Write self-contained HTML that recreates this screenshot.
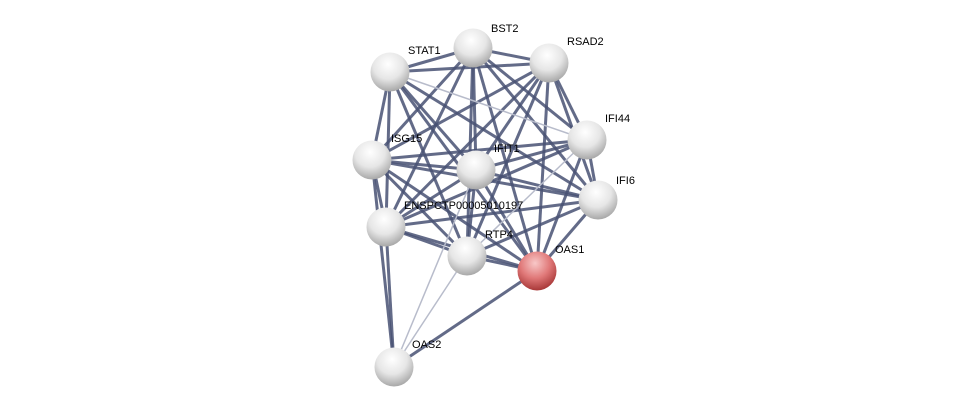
<!DOCTYPE html><html><head><style>body{margin:0;background:#fff}svg{display:block}text{font-family:"Liberation Sans",sans-serif;font-size:11px;fill:#000}</style></head><body>
<svg width="975" height="411" xmlns="http://www.w3.org/2000/svg">
<defs>
<radialGradient id="g" cx="45%" cy="30%" r="70%"><stop offset="0" stop-color="#ffffff"/><stop offset="0.55" stop-color="#e6e6e6"/><stop offset="1" stop-color="#a8a8a8"/></radialGradient>
<radialGradient id="r" cx="45%" cy="30%" r="70%"><stop offset="0" stop-color="#f8c8c8"/><stop offset="0.55" stop-color="#e07878"/><stop offset="1" stop-color="#a83838"/></radialGradient>
</defs>
<g stroke="#485173" stroke-width="3" stroke-opacity="0.85">
<line x1="473" y1="48" x2="549" y2="63"/><line x1="473" y1="48" x2="390" y2="72"/><line x1="473" y1="48" x2="587" y2="140"/><line x1="473" y1="48" x2="372" y2="160"/><line x1="473" y1="48" x2="476" y2="170"/><line x1="473" y1="48" x2="598" y2="200"/><line x1="473" y1="48" x2="386" y2="227"/><line x1="473" y1="48" x2="467" y2="256"/><line x1="473" y1="48" x2="537" y2="271"/>
<line x1="549" y1="63" x2="390" y2="72"/><line x1="549" y1="63" x2="587" y2="140"/><line x1="549" y1="63" x2="372" y2="160"/><line x1="549" y1="63" x2="476" y2="170"/><line x1="549" y1="63" x2="598" y2="200"/><line x1="549" y1="63" x2="386" y2="227"/><line x1="549" y1="63" x2="467" y2="256"/><line x1="549" y1="63" x2="537" y2="271"/>
<line x1="390" y1="72" x2="372" y2="160"/><line x1="390" y1="72" x2="476" y2="170"/><line x1="390" y1="72" x2="598" y2="200"/><line x1="390" y1="72" x2="386" y2="227"/><line x1="390" y1="72" x2="467" y2="256"/><line x1="390" y1="72" x2="537" y2="271"/>
<line x1="587" y1="140" x2="372" y2="160"/><line x1="587" y1="140" x2="476" y2="170"/><line x1="587" y1="140" x2="598" y2="200"/><line x1="587" y1="140" x2="386" y2="227"/><line x1="587" y1="140" x2="537" y2="271"/>
<line x1="372" y1="160" x2="476" y2="170"/><line x1="372" y1="160" x2="598" y2="200"/><line x1="372" y1="160" x2="386" y2="227"/><line x1="372" y1="160" x2="467" y2="256"/><line x1="372" y1="160" x2="537" y2="271"/><line x1="372" y1="160" x2="394" y2="367"/>
<line x1="476" y1="170" x2="598" y2="200"/><line x1="476" y1="170" x2="386" y2="227"/><line x1="476" y1="170" x2="467" y2="256"/><line x1="476" y1="170" x2="537" y2="271"/>
<line x1="598" y1="200" x2="386" y2="227"/><line x1="598" y1="200" x2="467" y2="256"/><line x1="598" y1="200" x2="537" y2="271"/>
<line x1="386" y1="227" x2="467" y2="256"/><line x1="386" y1="227" x2="537" y2="271"/><line x1="386" y1="227" x2="394" y2="367"/>
<line x1="467" y1="256" x2="537" y2="271"/><line x1="537" y1="271" x2="394" y2="367"/>
</g>
<g stroke="#b8bccb" stroke-width="1.5">
<line x1="390" y1="72" x2="587" y2="140"/><line x1="587" y1="140" x2="467" y2="256"/><line x1="476" y1="170" x2="394" y2="367"/><line x1="467" y1="256" x2="394" y2="367"/>
</g>
<g>
<circle cx="473" cy="48" r="19.5" fill="url(#g)"/><circle cx="549" cy="63" r="19.5" fill="url(#g)"/><circle cx="390" cy="72" r="19.5" fill="url(#g)"/><circle cx="587" cy="140" r="19.5" fill="url(#g)"/><circle cx="372" cy="160" r="19.5" fill="url(#g)"/><circle cx="476" cy="170" r="19.5" fill="url(#g)"/><circle cx="598" cy="200" r="19.5" fill="url(#g)"/><circle cx="386" cy="227" r="19.5" fill="url(#g)"/><circle cx="467" cy="256" r="19.5" fill="url(#g)"/><circle cx="394" cy="367" r="19.5" fill="url(#g)"/>
<circle cx="537" cy="271" r="19.5" fill="url(#r)"/>
</g>
<text x="491" y="32">BST2</text><text x="567" y="45">RSAD2</text><text x="408" y="54">STAT1</text><text x="605" y="122">IFI44</text><text x="391" y="142">ISG15</text><text x="494" y="152">IFIT1</text><text x="616" y="184">IFI6</text><text x="404" y="209">ENSPCTP00005010197</text><text x="485" y="238">RTP4</text><text x="555" y="253">OAS1</text><text x="412" y="348">OAS2</text>
</svg></body></html>
